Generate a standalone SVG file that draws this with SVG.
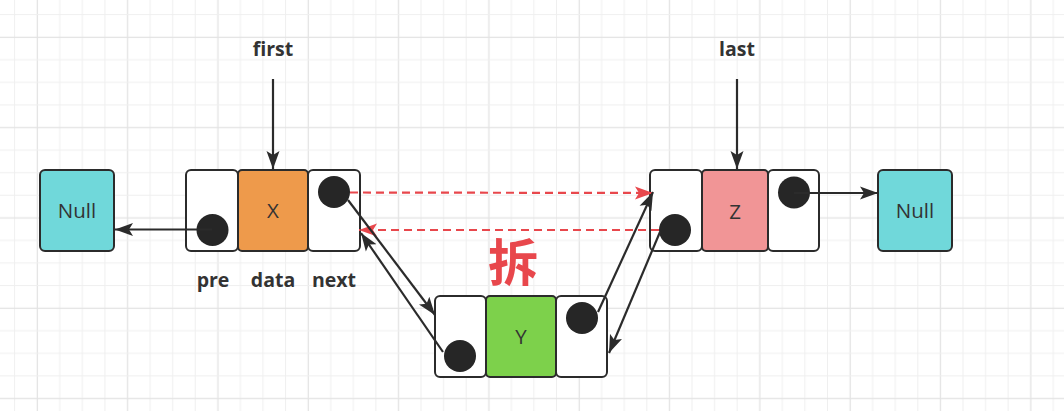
<svg xmlns="http://www.w3.org/2000/svg" width="1064" height="411" viewBox="0 0 1064 411">
  <defs>
    <pattern id="grid" patternUnits="userSpaceOnUse" x="14.1" y="14.1" width="90.32" height="90.32">
      <rect x="0" y="0" width="1" height="90.32" fill="#efefef"/>
      <rect x="22.58" y="0" width="1.3" height="90.32" fill="#e3e3e3"/>
      <rect x="45.16" y="0" width="1" height="90.32" fill="#efefef"/>
      <rect x="67.74" y="0" width="1" height="90.32" fill="#efefef"/>
      <rect x="0" y="0" width="90.32" height="1" fill="#efefef"/>
      <rect x="0" y="22.58" width="90.32" height="1.3" fill="#e3e3e3"/>
      <rect x="0" y="45.16" width="90.32" height="1" fill="#efefef"/>
      <rect x="0" y="67.74" width="90.32" height="1" fill="#efefef"/>
    </pattern>
    <marker id="ah" markerUnits="userSpaceOnUse" markerWidth="19" markerHeight="14" refX="18" refY="7" orient="auto">
      <path d="M0,0.5 L18,7 L0,13.5 L4,7 Z" fill="#2b2b2b"/>
    </marker>
    <marker id="ahr" markerUnits="userSpaceOnUse" markerWidth="19" markerHeight="14" refX="18" refY="7" orient="auto">
      <path d="M0,0.5 L18,7 L0,13.5 L4,7 Z" fill="#e8474c"/>
    </marker>
    <style>
      .cell{stroke:#2b2b2b;stroke-width:2}
      .w{fill:#ffffff}
      .null{fill:#70d8da}
      .dot{fill:#262626}
      .t{font-family:"Open Sans","Liberation Sans",sans-serif;font-size:20.5px;fill:#333333;text-anchor:middle}
      .lbl{font-family:"Open Sans","Liberation Sans",sans-serif;font-size:19.5px;font-weight:bold;fill:#333333;text-anchor:middle}
      .ln{stroke:#2b2b2b;stroke-width:2.2;fill:none;marker-end:url(#ah)}
      .rd{stroke:#e8474c;stroke-width:2.2;fill:none;stroke-dasharray:8 5;marker-end:url(#ahr)}
    </style>
  </defs>
  <rect width="1064" height="411" fill="#ffffff"/>
  <rect width="1064" height="411" fill="url(#grid)"/>

  <g id="null-left">
    <rect class="cell null" x="40" y="170" width="74" height="81" rx="5"/>
    <text class="t" x="77" y="218">Null</text>
  </g>

  <g id="node-x">
    <rect class="cell w" x="186" y="170" width="52" height="81" rx="5"/>
    <rect class="cell" x="238" y="170" width="70" height="81" rx="4" fill="#ee9a4b"/>
    <rect class="cell w" x="308" y="170" width="52" height="81" rx="5"/>
    <circle class="dot" cx="212.5" cy="230" r="16"/>
    <circle class="dot" cx="334" cy="192" r="16"/>
    <text class="t" x="273" y="218">X</text>
  </g>

  <g id="node-y">
    <rect class="cell w" x="435" y="296" width="51" height="81" rx="5"/>
    <rect class="cell" x="486" y="296" width="70" height="81" rx="4" fill="#7dd14b"/>
    <rect class="cell w" x="556" y="296" width="51" height="81" rx="5"/>
    <circle class="dot" cx="460" cy="356" r="16"/>
    <circle class="dot" cx="582" cy="318" r="16"/>
    <text class="t" x="521" y="344">Y</text>
  </g>

  <g id="node-z">
    <rect class="cell w" x="650" y="170" width="52" height="81" rx="5"/>
    <rect class="cell" x="702" y="170" width="66" height="81" rx="4" fill="#f19596"/>
    <rect class="cell w" x="768" y="170" width="51" height="81" rx="5"/>
    <circle class="dot" cx="675" cy="230" r="16"/>
    <circle class="dot" cx="794" cy="192.5" r="16"/>
    <text class="t" x="735" y="219">Z</text>
  </g>

  <g id="null-right">
    <rect class="cell null" x="878" y="170" width="74" height="81" rx="5"/>
    <text class="t" x="915" y="218">Null</text>
  </g>

  <g id="labels">
    <text class="lbl" x="273" y="56">first</text>
    <text class="lbl" x="737" y="56">last</text>
    <text class="lbl" x="213" y="286.5">pre</text>
    <text class="lbl" x="273" y="286.5">data</text>
    <text class="lbl" x="334" y="286.5">next</text>
    <text x="513" y="281" font-family="'Noto Sans CJK SC',sans-serif" font-size="50" font-weight="bold" fill="#e8474c" text-anchor="middle">拆</text>
  </g>

  <g id="connectors">
    <line class="ln" x1="273" y1="79" x2="273" y2="169"/>
    <line class="ln" x1="737" y1="79" x2="737" y2="169"/>
    <line class="ln" x1="212" y1="229.5" x2="115" y2="229.5"/>
    <line class="ln" x1="794" y1="193" x2="878" y2="193"/>
    <line class="rd" x1="350" y1="192.5" x2="653" y2="193"/>
    <line class="rd" x1="659" y1="230" x2="359" y2="230"/>
    <line class="ln" x1="348" y1="200" x2="435" y2="315"/>
    <line class="ln" x1="443" y1="352" x2="361" y2="233"/>
    <line class="ln" x1="598" y1="312" x2="653" y2="192"/>
    <line class="ln" x1="660" y1="232" x2="609" y2="353"/>
  </g>
</svg>
